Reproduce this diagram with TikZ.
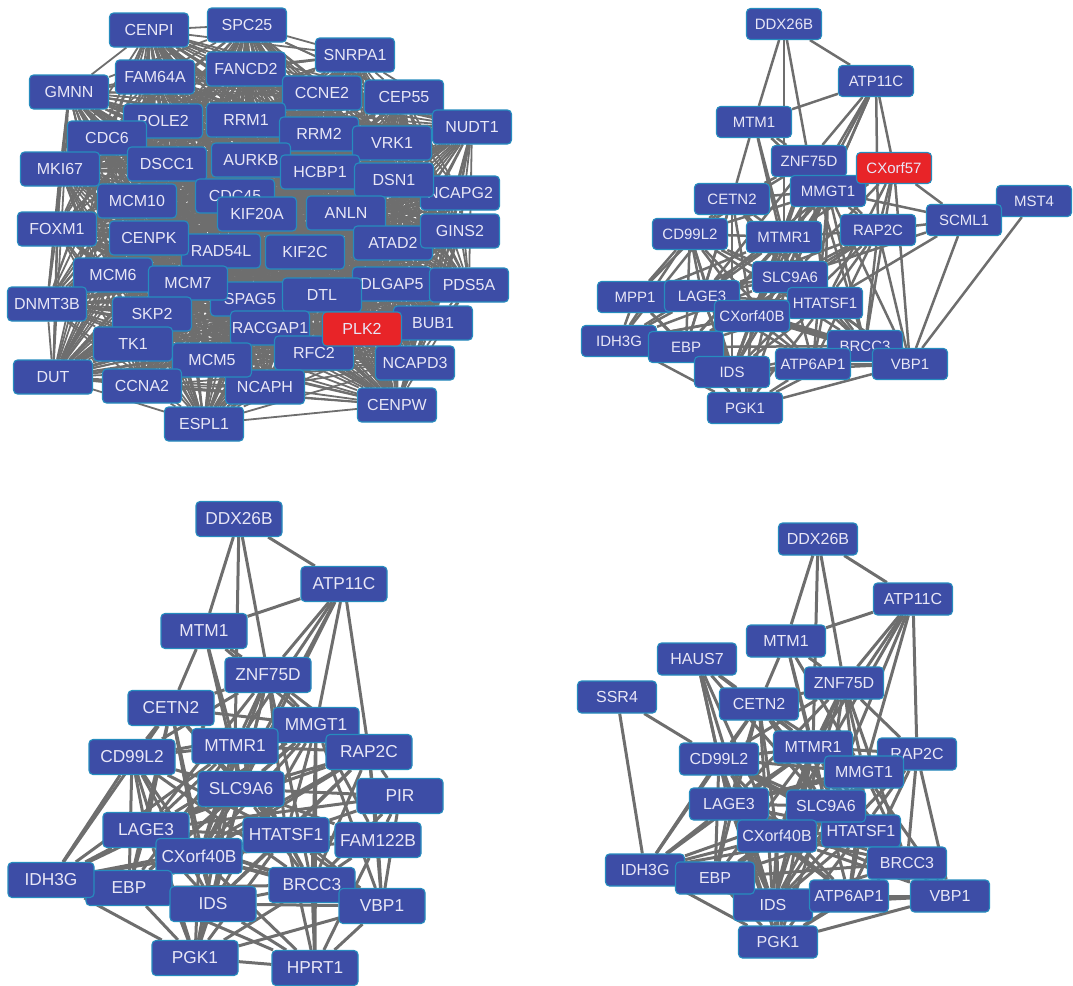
\documentclass[tikz,border=0pt]{standalone}
\usepackage{fontspec}
\setmainfont{Liberation Sans}
\usetikzlibrary{backgrounds}
\definecolor{nodeblue}{RGB}{61,77,166}
\definecolor{nodeedge}{RGB}{38,140,190}
\definecolor{nodetext}{RGB}{232,230,246}
\definecolor{nodered}{RGB}{232,36,40}
\definecolor{edgegray}{RGB}{110,110,110}
\tikzset{
 gene/.style={rectangle, rounded corners=4pt, fill=nodeblue, draw=nodeedge, line width=1.1pt, text=nodetext, inner sep=0pt},
 redgene/.style={fill=nodered},
 geneA/.style={gene, minimum width=79pt, minimum height=34pt, font=\fontsize{16}{16}\selectfont},
 geneB/.style={gene, minimum width=75pt, minimum height=31pt, font=\fontsize{15}{15}\selectfont},
 geneC/.style={gene, minimum width=86pt, minimum height=35pt, font=\fontsize{17.3}{17.3}\selectfont},
 geneD/.style={gene, minimum width=79pt, minimum height=32pt, font=\fontsize{16}{16}\selectfont},
 linkA/.style={color=edgegray, line width=1.8pt},
 linkB/.style={color=edgegray, line width=2.5pt},
 linkC/.style={color=edgegray, line width=3pt},
}
\newcommand\corelinks[1]{%
\foreach \u/\v in {DDX26B/ATP11C, DDX26B/MTM1, DDX26B/MTMR1, DDX26B/ZNF75D,
ATP11C/MTM1, ATP11C/ZNF75D, ATP11C/MMGT1, ATP11C/MTMR1, ATP11C/SLC9A6, ATP11C/RAP2C, ATP11C/CXorf40B,
MTM1/CETN2, MTM1/MTMR1, MTM1/SLC9A6, MTM1/ZNF75D, MTM1/MMGT1,
ZNF75D/MMGT1, ZNF75D/MTMR1, ZNF75D/SLC9A6, ZNF75D/RAP2C, ZNF75D/CETN2, ZNF75D/CXorf40B, ZNF75D/LAGE3, ZNF75D/BRCC3, ZNF75D/HTATSF1, ZNF75D/IDS, ZNF75D/CD99L2,
CETN2/CD99L2, CETN2/MTMR1, CETN2/LAGE3, CETN2/EBP, CETN2/IDS, CETN2/SLC9A6, CETN2/CXorf40B, CETN2/MMGT1, CETN2/IDH3G, CETN2/HTATSF1,
MMGT1/MTMR1, MMGT1/RAP2C, MMGT1/SLC9A6, MMGT1/HTATSF1, MMGT1/LAGE3, MMGT1/CD99L2, MMGT1/IDS, MMGT1/BRCC3, MMGT1/VBP1, MMGT1/EBP, MMGT1/CXorf40B,
MTMR1/CD99L2, MTMR1/SLC9A6, MTMR1/RAP2C, MTMR1/LAGE3, MTMR1/CXorf40B, MTMR1/IDS, MTMR1/EBP, MTMR1/HTATSF1, MTMR1/PGK1, MTMR1/BRCC3, MTMR1/IDH3G,
CD99L2/LAGE3, CD99L2/IDH3G, CD99L2/EBP, CD99L2/IDS, CD99L2/SLC9A6, CD99L2/CXorf40B, CD99L2/HTATSF1, CD99L2/PGK1, CD99L2/BRCC3,
RAP2C/SLC9A6, RAP2C/HTATSF1, RAP2C/LAGE3, RAP2C/CXorf40B, RAP2C/BRCC3, RAP2C/VBP1, RAP2C/IDS, RAP2C/EBP,
SLC9A6/LAGE3, SLC9A6/HTATSF1, SLC9A6/CXorf40B, SLC9A6/IDS, SLC9A6/EBP, SLC9A6/BRCC3, SLC9A6/PGK1, SLC9A6/IDH3G, SLC9A6/VBP1,
LAGE3/CXorf40B, LAGE3/HTATSF1, LAGE3/IDH3G, LAGE3/EBP, LAGE3/IDS, LAGE3/PGK1, LAGE3/BRCC3, LAGE3/VBP1,
HTATSF1/CXorf40B, HTATSF1/IDS, HTATSF1/EBP, HTATSF1/BRCC3, HTATSF1/VBP1, HTATSF1/PGK1, HTATSF1/IDH3G,
CXorf40B/IDS, CXorf40B/EBP, CXorf40B/IDH3G, CXorf40B/PGK1, CXorf40B/BRCC3, CXorf40B/VBP1,
IDH3G/EBP, IDH3G/PGK1, IDH3G/IDS, EBP/IDS, EBP/PGK1, EBP/BRCC3,
BRCC3/IDS, BRCC3/VBP1, BRCC3/PGK1, IDS/PGK1, IDS/VBP1, VBP1/PGK1}{\draw (#1\u) -- (#1\v);}%
}
\newcommand\atplinks[1]{%
\foreach \u/\v in {ATP6AP1/IDS, ATP6AP1/VBP1, ATP6AP1/BRCC3, ATP6AP1/PGK1, ATP6AP1/MMGT1, ATP6AP1/SLC9A6, ATP6AP1/HTATSF1, ATP6AP1/CXorf40B, ATP6AP1/RAP2C, ATP6AP1/LAGE3, ATP6AP1/CD99L2}{\draw (#1\u) -- (#1\v);}%
}
\def\panelAlist{CENPI,SPC25,SNRPA1,FAM64A,FANCD2,GMNN,CCNE2,CEP55,POLE2,RRM1,NUDT1,RRM2,VRK1,CDC6,MKI67,DSCC1,AURKB,HCBP1,NCAPG2,DSN1,CDC45,MCM10,KIF20A,ANLN,FOXM1,RAD54L,CENPK,KIF2C,ATAD2,GINS2,MCM6,SPAG5,MCM7,DLGAP5,PDS5A,DNMT3B,DTL,RACGAP1,SKP2,BUB1,TK1,RFC2,NCAPD3,DUT,NCAPH,MCM5,CCNA2,CENPW,ESPL1,PLK2}
\begin{document}
\begin{tikzpicture}[x=1pt,y=-1pt]
\useasboundingbox (0,0) rectangle (1073,985);
% ---------------- Panel A (top left)
\foreach \n/\x/\y in {CENPI/149/30, SPC25/247/25, SNRPA1/355/55, FAM64A/155/77, FANCD2/246/69, GMNN/69/92, CCNE2/322/93, CEP55/404/97, POLE2/163/121, RRM1/246/120, NUDT1/472/127, RRM2/319/134, VRK1/392/143, CDC6/107/138, MKI67/60/169, DSCC1/167/164, AURKB/251/160, HCBP1/320/172, NCAPG2/460/193, DSN1/394/180, CDC45/235/196, MCM10/137/201, KIF20A/257/214, ANLN/346/213, FOXM1/57/229, RAD54L/221/251, CENPK/149/238, KIF2C/305/252, ATAD2/393/243, GINS2/460/231, MCM6/113/275, SPAG5/250/299, MCM7/188/283, DLGAP5/392/284, PDS5A/469/285, DNMT3B/47/304, DTL/322/295, RACGAP1/270/328, SKP2/152/314, BUB1/433/323, TK1/133/344, RFC2/314/353, NCAPD3/415/363, DUT/53/377, NCAPH/265/387, MCM5/212/360, CCNA2/142/386, CENPW/397/405, ESPL1/204/424}
  {\node[geneA] (a-\n) at (\x,\y) {\n};}
\node[geneA, redgene] (a-PLK2) at (362,329) {PLK2};
\begin{scope}[on background layer]
\begin{scope}[linkA]
\foreach \p [count=\i] in \panelAlist {
  \foreach \q [count=\j] in \panelAlist {
    \ifnum\j>\i \draw (a-\p) -- (a-\q); \fi
  }
}
\end{scope}
\end{scope}
% ---------------- Panel B (top right)
\foreach \n/\x/\y in {DDX26B/784/24, ATP11C/876/81, MTM1/754/122, ZNF75D/809/161, CETN2/732/199, MMGT1/828/191, MST4/1034/201, SCML1/964/220, RAP2C/878/230, CD99L2/690/234, MTMR1/784/237, SLC9A6/790/277, MPP1/635/297, LAGE3/702/296, HTATSF1/825/303, CXorf40B/752/316, IDH3G/619/341, EBP/686/347, BRCC3/865/346, IDS/732/372, ATP6AP1/813/364, VBP1/910/364, PGK1/745/408}
  {\node[geneB] (b-\n) at (\x,\y) {\n};}
\node[geneB, redgene] (b-CXorf57) at (894,168) {CXorf57};
\begin{scope}[on background layer]
\begin{scope}[linkB]
\corelinks{b-}
\atplinks{b-}
\foreach \u/\v in {CXorf57/ATP11C, CXorf57/SCML1, CXorf57/RAP2C, CXorf57/MMGT1, CXorf57/HTATSF1, CXorf57/VBP1, CXorf57/BRCC3, CXorf57/SLC9A6, CXorf57/MTMR1, SCML1/RAP2C, SCML1/VBP1, SCML1/SLC9A6, SCML1/HTATSF1, SCML1/MMGT1, MST4/VBP1, MST4/SCML1, MPP1/LAGE3, MPP1/IDH3G, MPP1/CD99L2, MPP1/EBP, MPP1/PGK1, MPP1/CETN2, MPP1/SLC9A6, MPP1/MTMR1}
  {\draw (b-\u) -- (b-\v);}
\end{scope}
\end{scope}
% ---------------- Panel C (bottom left)
\foreach \n/\x/\y in {DDX26B/239/519, ATP11C/344/584, MTM1/204/631, ZNF75D/268/675, CETN2/171/708, MMGT1/316/725, MTMR1/235/746, CD99L2/132/757, RAP2C/369/752, SLC9A6/241/789, PIR/400/796, LAGE3/146/830, HTATSF1/286/835, FAM122B/378/840, CXorf40B/199/856, EBP/129/888, IDH3G/51/880, BRCC3/312/885, IDS/213/904, VBP1/382/906, PGK1/195/958, HPRT1/315/968}
  {\node[geneC] (c-\n) at (\x,\y) {\n};}
\begin{scope}[on background layer]
\begin{scope}[linkC]
\corelinks{c-}
\foreach \u/\v in {PIR/VBP1, PIR/FAM122B, PIR/RAP2C, PIR/HTATSF1, PIR/SLC9A6, PIR/BRCC3, PIR/LAGE3, FAM122B/VBP1, FAM122B/BRCC3, FAM122B/HTATSF1, FAM122B/RAP2C, FAM122B/MMGT1, FAM122B/HPRT1, FAM122B/CXorf40B, FAM122B/SLC9A6, HPRT1/PGK1, HPRT1/BRCC3, HPRT1/VBP1, HPRT1/HTATSF1, HPRT1/IDS, HPRT1/CXorf40B, HPRT1/MMGT1, HPRT1/EBP}
  {\draw (c-\u) -- (c-\v);}
\end{scope}
\end{scope}
% ---------------- Panel D (bottom right)
\foreach \n/\x/\y in {DDX26B/818/539, ATP11C/913/599, MTM1/786/641, HAUS7/697/659, SSR4/617/697, ZNF75D/844/683, CETN2/759/704, MTMR1/813/747, RAP2C/917/754, CD99L2/719/759, MMGT1/864/772, LAGE3/729/804, HTATSF1/861/831, SLC9A6/826/806, CXorf40B/777/836, BRCC3/907/863, IDH3G/645/870, IDS/773/905, EBP/715/878, ATP6AP1/849/896, VBP1/950/896, PGK1/778/942}
  {\node[geneD] (d-\n) at (\x,\y) {\n};}
\begin{scope}[on background layer]
\begin{scope}[linkC]
\corelinks{d-}
\atplinks{d-}
\foreach \u/\v in {HAUS7/CD99L2, HAUS7/LAGE3, HAUS7/MTMR1, HAUS7/SLC9A6, HAUS7/CXorf40B, HAUS7/IDS, HAUS7/CETN2, SSR4/IDH3G, SSR4/CD99L2}
  {\draw (d-\u) -- (d-\v);}
\end{scope}
\end{scope}
\end{tikzpicture}
\end{document}
